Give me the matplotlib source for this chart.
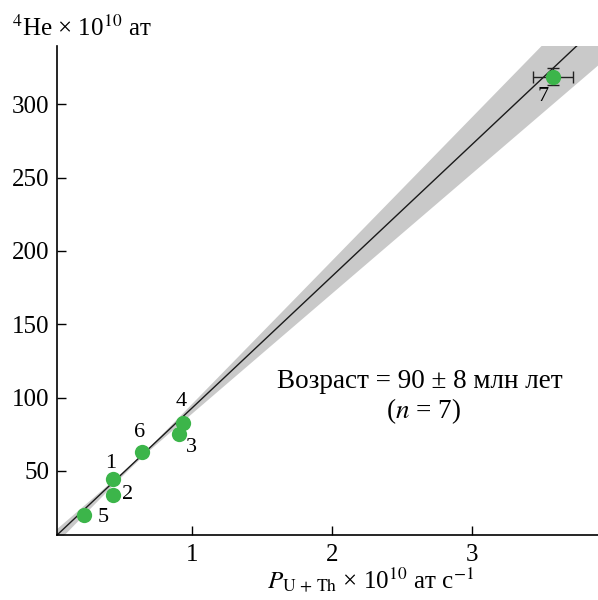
import numpy as np
import matplotlib.pyplot as plt

plt.rcParams['font.family'] = ['Liberation Serif', 'DejaVu Serif']
plt.rcParams['mathtext.fontset'] = 'stix'

# data
labels = ["1", "2", "3", "4", "5", "6", "7"]
p_uth = [0.433, 0.43, 0.904, 0.929, 0.226, 0.636, 3.576]
he4 = [44.3, 33.8, 75.1, 82.5, 19.7, 63.0, 318.7]
p_err = [0, 0, 0, 0, 0, 0, 0.143]
he_err = [0, 0, 0, 0, 0, 0, 5.7]
label_offsets = [(-3, 16), (15, 0), (12, -13), (-1, 22), (19, -2), (-2, 19), (-10, -20)]

slope = 89.7
intercept = 3.5
slope_err = 8.0
x_center = 0.6

fig = plt.figure(figsize=(5.98, 6.0), dpi=100)
ax = fig.add_axes([0.096, 0.108, 0.904, 0.815])

xx = np.linspace(0.0, 4.0, 200)
yy = slope * xx + intercept
half = np.sqrt(1.0 + (slope_err * (xx - x_center)) ** 2)
ax.fill_between(xx, yy - half, yy + half, color='#c9c9c9', lw=0, zorder=1)
ax.plot(xx, yy, color='#1a1a1a', lw=1.0, zorder=2)

ax.errorbar(p_uth, he4, xerr=p_err, yerr=he_err, fmt='none', ecolor='#222222',
            elinewidth=1.0, capsize=4, capthick=1.0, zorder=3)
ax.plot(p_uth, he4, 'o', color='#3cb54a', ms=11, mec='none', zorder=4)

for lab, x, y, (dx, dy) in zip(labels, p_uth, he4, label_offsets):
    ax.annotate(lab, (x, y), xytext=(dx * 0.72, dy * 0.72), textcoords='offset points',
                ha='center', va='center', fontsize=16, zorder=5)

ax.set_xlim(0.034, 3.9)
ax.set_ylim(6.2, 339.5)
ax.set_xticks([1, 2, 3])
ax.set_yticks([50, 100, 150, 200, 250, 300])
ax.tick_params(direction='in', length=6.5, width=1.0, labelsize=18, pad=6)
ax.spines['top'].set_visible(False)
ax.spines['right'].set_visible(False)
for s in ['left', 'bottom']:
    ax.spines[s].set_linewidth(1.2)

ax.text(420 / 598, 1 - 381 / 600, "Возраст = 90 ± 8 млн лет", transform=fig.transFigure,
        ha='center', va='center', fontsize=19.5)
ax.text(423 / 598, 1 - 411 / 600, "($n$ = 7)", transform=fig.transFigure,
        ha='center', va='center', fontsize=19.5)

fig.text(12 / 598, 1 - 28 / 600, r"$^{4}$He × 10$^{10}$ ат", ha='left', va='center', fontsize=18)
fig.text(371 / 598, 1 - 580 / 600, r"$P_{\mathrm{U\,+\,Th}}$ × 10$^{10}$ ат с$^{-1}$",
         ha='center', va='center', fontsize=18)

fig.savefig("out.png", dpi=100)
